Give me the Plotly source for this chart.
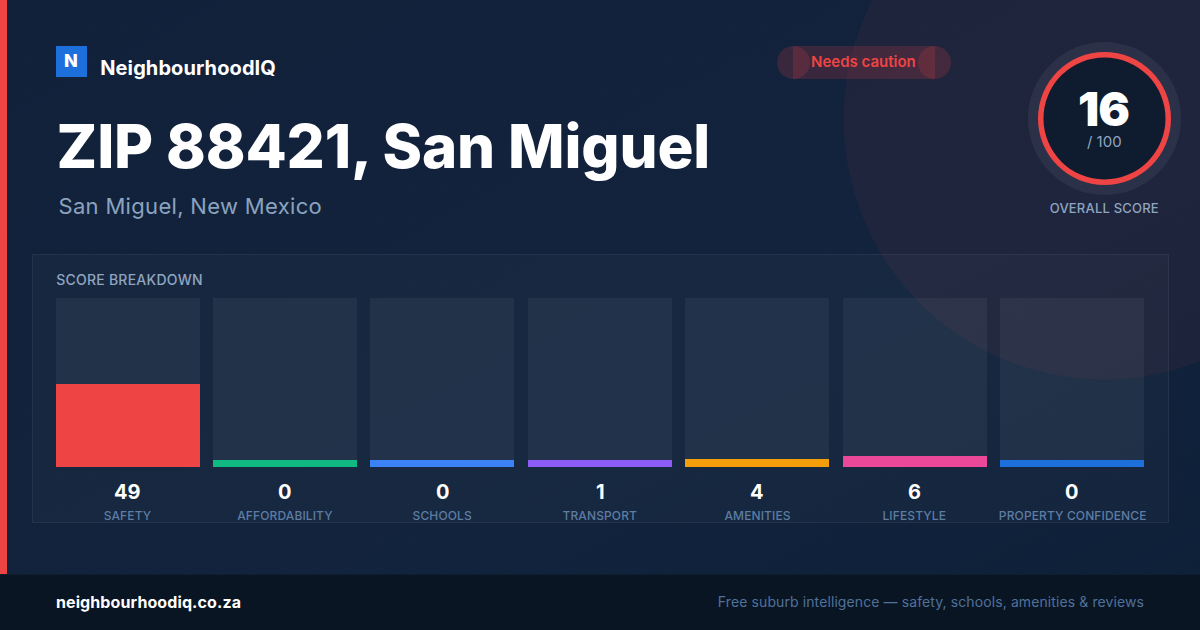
import base64
import json
import plotly.graph_objects as go

categories = ["SAFETY", "AFFORDABILITY", "SCHOOLS", "TRANSPORT", "AMENITIES", "LIFESTYLE", "PROPERTY CONFIDENCE"]
scores = [49, 0, 0, 1, 4, 6, 0]
drawn_heights = [49, 4, 4, 4, 4.6, 6.5, 4]
bar_colors = ["#ef4444", "#10b981", "#3b82f6", "#8b5cf6", "#f59e0b", "#ec4899", "#1d6fdc"]
track_values = [100] * 7

FONT = "Inter"
W, H = 1200, 630
BAND = 157.38


def px(x):
    return x / W


def py(y):
    return 1 - y / H


def rect(x0, y0, x1, y1, fill, line=None, layer="below"):
    return dict(type="rect", xref="paper", yref="paper", x0=px(x0), x1=px(x1), y0=py(y1), y1=py(y0),
                fillcolor=fill, line=dict(color=line, width=1) if line else dict(width=0), layer=layer)


def circle(cx, cy, r, fill, line=None, lw=0, layer="below"):
    return dict(type="circle", xref="paper", yref="paper", x0=px(cx - r), x1=px(cx + r), y0=py(cy + r), y1=py(cy - r),
                fillcolor=fill, line=dict(color=line, width=lw) if line else dict(width=0), layer=layer)


spacing = {}


def text(cx, y, s, size, color, weight=400, ls=0):
    if ls:
        spacing[s.replace("&amp;", "&")] = ls
    return dict(xref="paper", yref="paper", x=px(cx), y=py(y), text=s, showarrow=False, xanchor="center", yanchor="middle",
                font=dict(family=FONT, size=size, color=color, weight=weight), borderpad=0, borderwidth=0)


svg = f'''<svg xmlns="http://www.w3.org/2000/svg" width="{W}" height="{H}" viewBox="0 0 {W} {H}">
<defs><linearGradient id="g" x1="0" y1="0" x2="1" y2="1">
<stop offset="0" stop-color="#12213a"/><stop offset="0.6" stop-color="#12233d"/><stop offset="1" stop-color="#0e1f38"/></linearGradient>
<pattern id="d" width="32" height="32" patternUnits="userSpaceOnUse"><rect x="24" y="24" width="1" height="1" fill="#ffffff" fill-opacity="0.035"/></pattern></defs>
<rect width="{W}" height="{H}" fill="url(#g)"/><rect width="{W}" height="{H}" fill="url(#d)"/></svg>'''
bg_src = "data:image/svg+xml;base64," + base64.b64encode(svg.encode()).decode()

fig = go.Figure()
fig.add_bar(x=categories, y=track_values, marker=dict(color="rgba(255,255,255,0.05)", line=dict(width=0)),
            width=144 / BAND, hoverinfo="skip", showlegend=False)
fig.add_bar(x=categories, y=drawn_heights, marker=dict(color=bar_colors, line=dict(width=0)),
            width=144 / BAND, customdata=scores, showlegend=False)

shapes = [
    circle(1104, 119, 260.5, "rgba(239,68,68,0.055)"),
    rect(32.5, 254.5, 1168.5, 522.5, "rgba(255,255,255,0.025)", "rgba(255,255,255,0.07)"),
    rect(0, 0, 7, 574, "#ef4444"),
    rect(0, 574, W, 630, "#0a1524"),
    rect(0, 574, W, 575, "#101c2f"),
    rect(56, 46, 87, 77, "#1d6fdc"),
    rect(793, 46, 935, 79, "rgba(239,68,68,0.18)"),
    circle(793.5, 62.5, 16.5, "rgba(239,68,68,0.18)"),
    circle(934.5, 62.5, 16.5, "rgba(239,68,68,0.18)"),
    circle(1104.5, 118.5, 76.5, "rgba(255,255,255,0.06)"),
    circle(1104.5, 118.5, 66.5, "#ef4444"),
    circle(1104.5, 118.5, 61, "#0f1b2e"),
]

annotations = [
    text(71, 61, "N", 18, "#ffffff", 800),
    text(188, 68, "NeighbourhoodIQ", 20, "#ffffff", 700, 0.1),
    text(383.5, 146, "ZIP 88421, San Miguel", 60, "#ffffff", 800, -0.15),
    text(190.3, 206, "San Miguel, New Mexico", 22, "#8aa3bf", 400, 0.32),
    text(863.5, 62, "Needs caution", 15, "#ef4444", 600),
    text(1103.5, 108, "16", 47, "#ffffff", 900, -1),
    text(1104.3, 141, "/ 100", 15, "#8fa5c0", 400),
    text(1104.5, 208, "OVERALL SCORE", 13, "#8fa5c0", 500, 0.2),
    text(129.5, 279.5, "SCORE BREAKDOWN", 14, "#8fa5c0", 500, 0.25),
    text(148.5, 602, "neighbourhoodiq.co.za", 16, "#ffffff", 700, 0.1),
    text(931, 601.5, "Free suburb intelligence — safety, schools, amenities &amp; reviews", 14, "#50719a", 400, 0.1),
]
for cat, score in zip(categories, scores):
    annotations.append(dict(xref="x", yref="paper", x=cat, y=py(491.5), text=str(score), showarrow=False, yanchor="middle",
                            font=dict(family=FONT, size=20, color="#ffffff", weight=700)))
    annotations.append(dict(xref="x", yref="paper", x=cat, y=py(515.5), text=cat, showarrow=False, yanchor="middle",
                            font=dict(family=FONT, size=12, color="#5d7da3", weight=500)))
    spacing[cat] = 0.12

fig.update_layout(
    width=W, height=H, margin=dict(l=0, r=0, t=0, b=0), barmode="overlay", bargap=0,
    paper_bgcolor="#12223b", plot_bgcolor="rgba(0,0,0,0)", showlegend=False,
    xaxis=dict(domain=[px(49.26), px(49.26 + 7 * BAND)], visible=False, type="category", categoryorder="array", categoryarray=categories),
    yaxis=dict(domain=[py(467), py(298)], range=[0, 100], visible=False),
    shapes=shapes, annotations=annotations,
    images=[dict(source=bg_src, xref="paper", yref="paper", x=0, y=1, sizex=1, sizey=1, sizing="stretch",
                 xanchor="left", yanchor="top", layer="below")],
)
post = ("document.body.style.margin='0';document.documentElement.style.overflow='hidden';"
        "var ls=" + json.dumps(spacing, ensure_ascii=False) + ";"
        "document.querySelectorAll('.annotation-text').forEach(function(t){var v=ls[t.textContent];"
        "if(v!==undefined){t.style.letterSpacing=v+'px';}});")
fig.write_html("out.html", config=dict(displayModeBar=False), post_script=post)
